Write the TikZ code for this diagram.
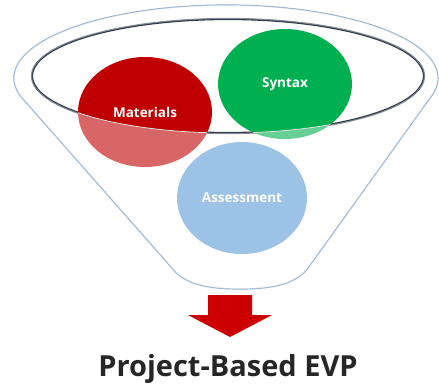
\documentclass[tikz,border=0pt]{standalone}
\usepackage{fontspec}
\setmainfont{Open Sans}
\usetikzlibrary{shapes.geometric}
\definecolor{rimblue}{RGB}{143,170,201}
\definecolor{rimdark}{RGB}{45,55,70}
\definecolor{matred}{RGB}{192,0,0}
\definecolor{syngreen}{RGB}{0,176,80}
\definecolor{assblue}{RGB}{91,155,213}
\definecolor{arrowred}{RGB}{204,0,0}
\definecolor{captext}{RGB}{38,38,38}

\begin{document}
\begin{tikzpicture}[x=1pt,y=-1pt,
  bubble/.style={ellipse, inner sep=0pt, minimum width=134pt, minimum height=110pt,
    text=white, font=\fontsize{13.5}{16}\selectfont\bfseries},
  rim/.style={draw=rimblue, line width=1.2pt},
  mouth/.style={draw=rimdark, line width=2.2pt},
  wall/.style={fill=white, fill opacity=0.4, even odd rule},
  seam/.style={draw=white!75!gray, line width=0.8pt},
  caption/.style={anchor=base, text=captext, font=\fontsize{29}{32}\selectfont\bfseries}]

\useasboundingbox (0,0) rectangle (439,383);
\fill[white] (0,0) rectangle (439,383);

% funnel outline: top rim arc, straight sides, rounded spout
\def\funnelpath{(172,268) -- (21.2,96.9)
  arc[start angle=195, end angle=-15, x radius=212pt, y radius=73pt]
  -- (308,268) .. controls (295,285) and (270,289) .. (240,289)
  .. controls (210,289) and (185,285) .. (172,268) -- cycle}
\draw[rim] \funnelpath;

% the dark mouth of the funnel
\draw[mouth] (228,76) ellipse[x radius=196pt, y radius=57pt];

% the three ingredients
\node[bubble, fill=matred] (mat) at (145,112) {Materials};
\node[bubble, fill=syngreen] (syn) at (285,84) {Syntax};
\node[bubble, fill=assblue, minimum width=130pt, minimum height=112pt] (ass) at (242,198) {Assessment};

% translucent front wall of the funnel below the mouth
\fill[wall] \funnelpath (228,76) ellipse[x radius=196pt, y radius=57pt];

% front edge of the mouth seen through the wall
\begin{scope}
  \clip (145,112) ellipse[x radius=67pt, y radius=55pt]
        (285,84) ellipse[x radius=67pt, y radius=55pt];
  \draw[seam] (228,76) ellipse[x radius=196pt, y radius=57pt];
\end{scope}

% output arrow
\fill[arrowred] (208,295) -- (252,295) -- (252,315) -- (272,315) -- (230,337)
  -- (188,315) -- (208,315) -- cycle;

\node[caption] (out) at (228,376) {Project-Based EVP};
\end{tikzpicture}
\end{document}
